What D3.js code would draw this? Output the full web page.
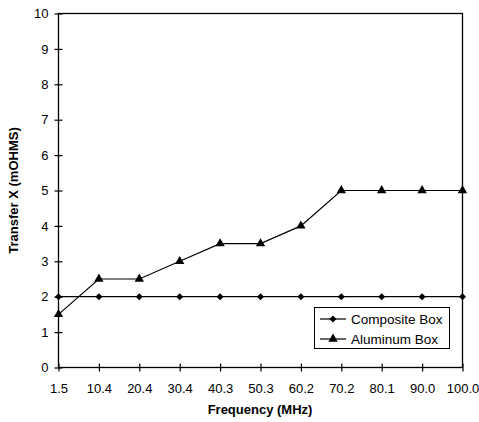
<!DOCTYPE html>
<html><head><meta charset="utf-8">
<script src="https://cdn.jsdelivr.net/npm/d3@7"></script>
<style>body{margin:0;background:#fff}svg{display:block}text{font-family:"Liberation Sans",Arial,sans-serif}</style>
</head><body><svg id="c" width="479" height="422"></svg>
<script>
const categories = ["1.5","10.4","20.4","30.4","40.3","50.3","60.2","70.2","80.1","90.0","100.0"];
const composite = [2,2,2,2,2,2,2,2,2,2,2];
const aluminum = [1.5,2.5,2.5,3,3.5,3.5,4,5,5,5,5];
const yTicks = [0,1,2,3,4,5,6,7,8,9,10];
const seriesNames = ["Composite Box","Aluminum Box"];

const svg = d3.select("#c");
const L=58.5, R=462.5, T=13.5, B=367.5;
const x = d3.scalePoint().domain(categories).range([L,R]).padding(0);
const y = d3.scaleLinear().domain([0,10]).range([B,T]);

// frame
svg.append("rect").attr("x",L).attr("y",T).attr("width",R-L).attr("height",B-T)
  .attr("fill","none").attr("stroke","#000").attr("stroke-width",1.3);

// y axis
const ya = svg.append("g").attr("transform",`translate(${L},0)`)
  .call(d3.axisLeft(y).tickValues(yTicks).tickSize(4).tickFormat(d3.format("d")));
ya.select(".domain").remove();
ya.selectAll(".tick line").attr("x1",-4).attr("x2",4).attr("stroke","#000").attr("stroke-width",1.2);
ya.selectAll(".tick text").attr("x",-10).attr("font-size",13).attr("font-family","Liberation Sans, Arial, sans-serif").attr("fill","#000");

// x axis
const xa = svg.append("g").attr("transform",`translate(0,${B})`)
  .call(d3.axisBottom(x).tickSize(4));
xa.select(".domain").remove();
xa.selectAll(".tick line").attr("y1",-4).attr("y2",4).attr("stroke","#000").attr("stroke-width",1.2);
xa.selectAll(".tick text").attr("y",16).attr("font-size",13).attr("font-family","Liberation Sans, Arial, sans-serif").attr("fill","#000");

// titles
svg.append("text").attr("x",260).attr("y",414).attr("text-anchor","middle")
  .attr("font-size",13).attr("font-weight","bold").text("Frequency (MHz)");
svg.append("text").attr("transform",`translate(18,${(T+B)/2}) rotate(-90)`).attr("text-anchor","middle")
  .attr("font-size",13).attr("font-weight","bold").text("Transfer X (mOHMS)");

const line = d3.line().x((d,i)=>x(categories[i])).y(d=>y(d));
const diamond = d3.symbol().type(d3.symbolDiamond2).size(32);
const tri = d3.symbol().type(d3.symbolTriangle).size(38);

function drawSeries(data, sym){
  svg.append("path").datum(data).attr("d",line).attr("fill","none").attr("stroke","#000").attr("stroke-width",1.2);
  svg.append("g").selectAll("path").data(data).join("path")
    .attr("transform",(d,i)=>`translate(${x(categories[i])},${y(d)})`)
    .attr("d",sym).attr("fill","#000");
}
drawSeries(composite, diamond);
drawSeries(aluminum, tri);

// legend
const lg = svg.append("g");
lg.append("rect").attr("x",314.5).attr("y",307.5).attr("width",135).attr("height",41)
  .attr("fill","#fff").attr("stroke","#000").attr("stroke-width",1);
const syms=[diamond,tri];
seriesNames.forEach((n,i)=>{
  const yy = 319 + i*20;
  lg.append("line").attr("x1",320).attr("x2",346).attr("y1",yy).attr("y2",yy).attr("stroke","#000").attr("stroke-width",1.2);
  lg.append("path").attr("transform",`translate(333,${yy})`).attr("d",syms[i]).attr("fill","#000");
  lg.append("text").attr("x",351).attr("y",yy+5).attr("font-size",13.5).text(n);
});
</script></body></html>
